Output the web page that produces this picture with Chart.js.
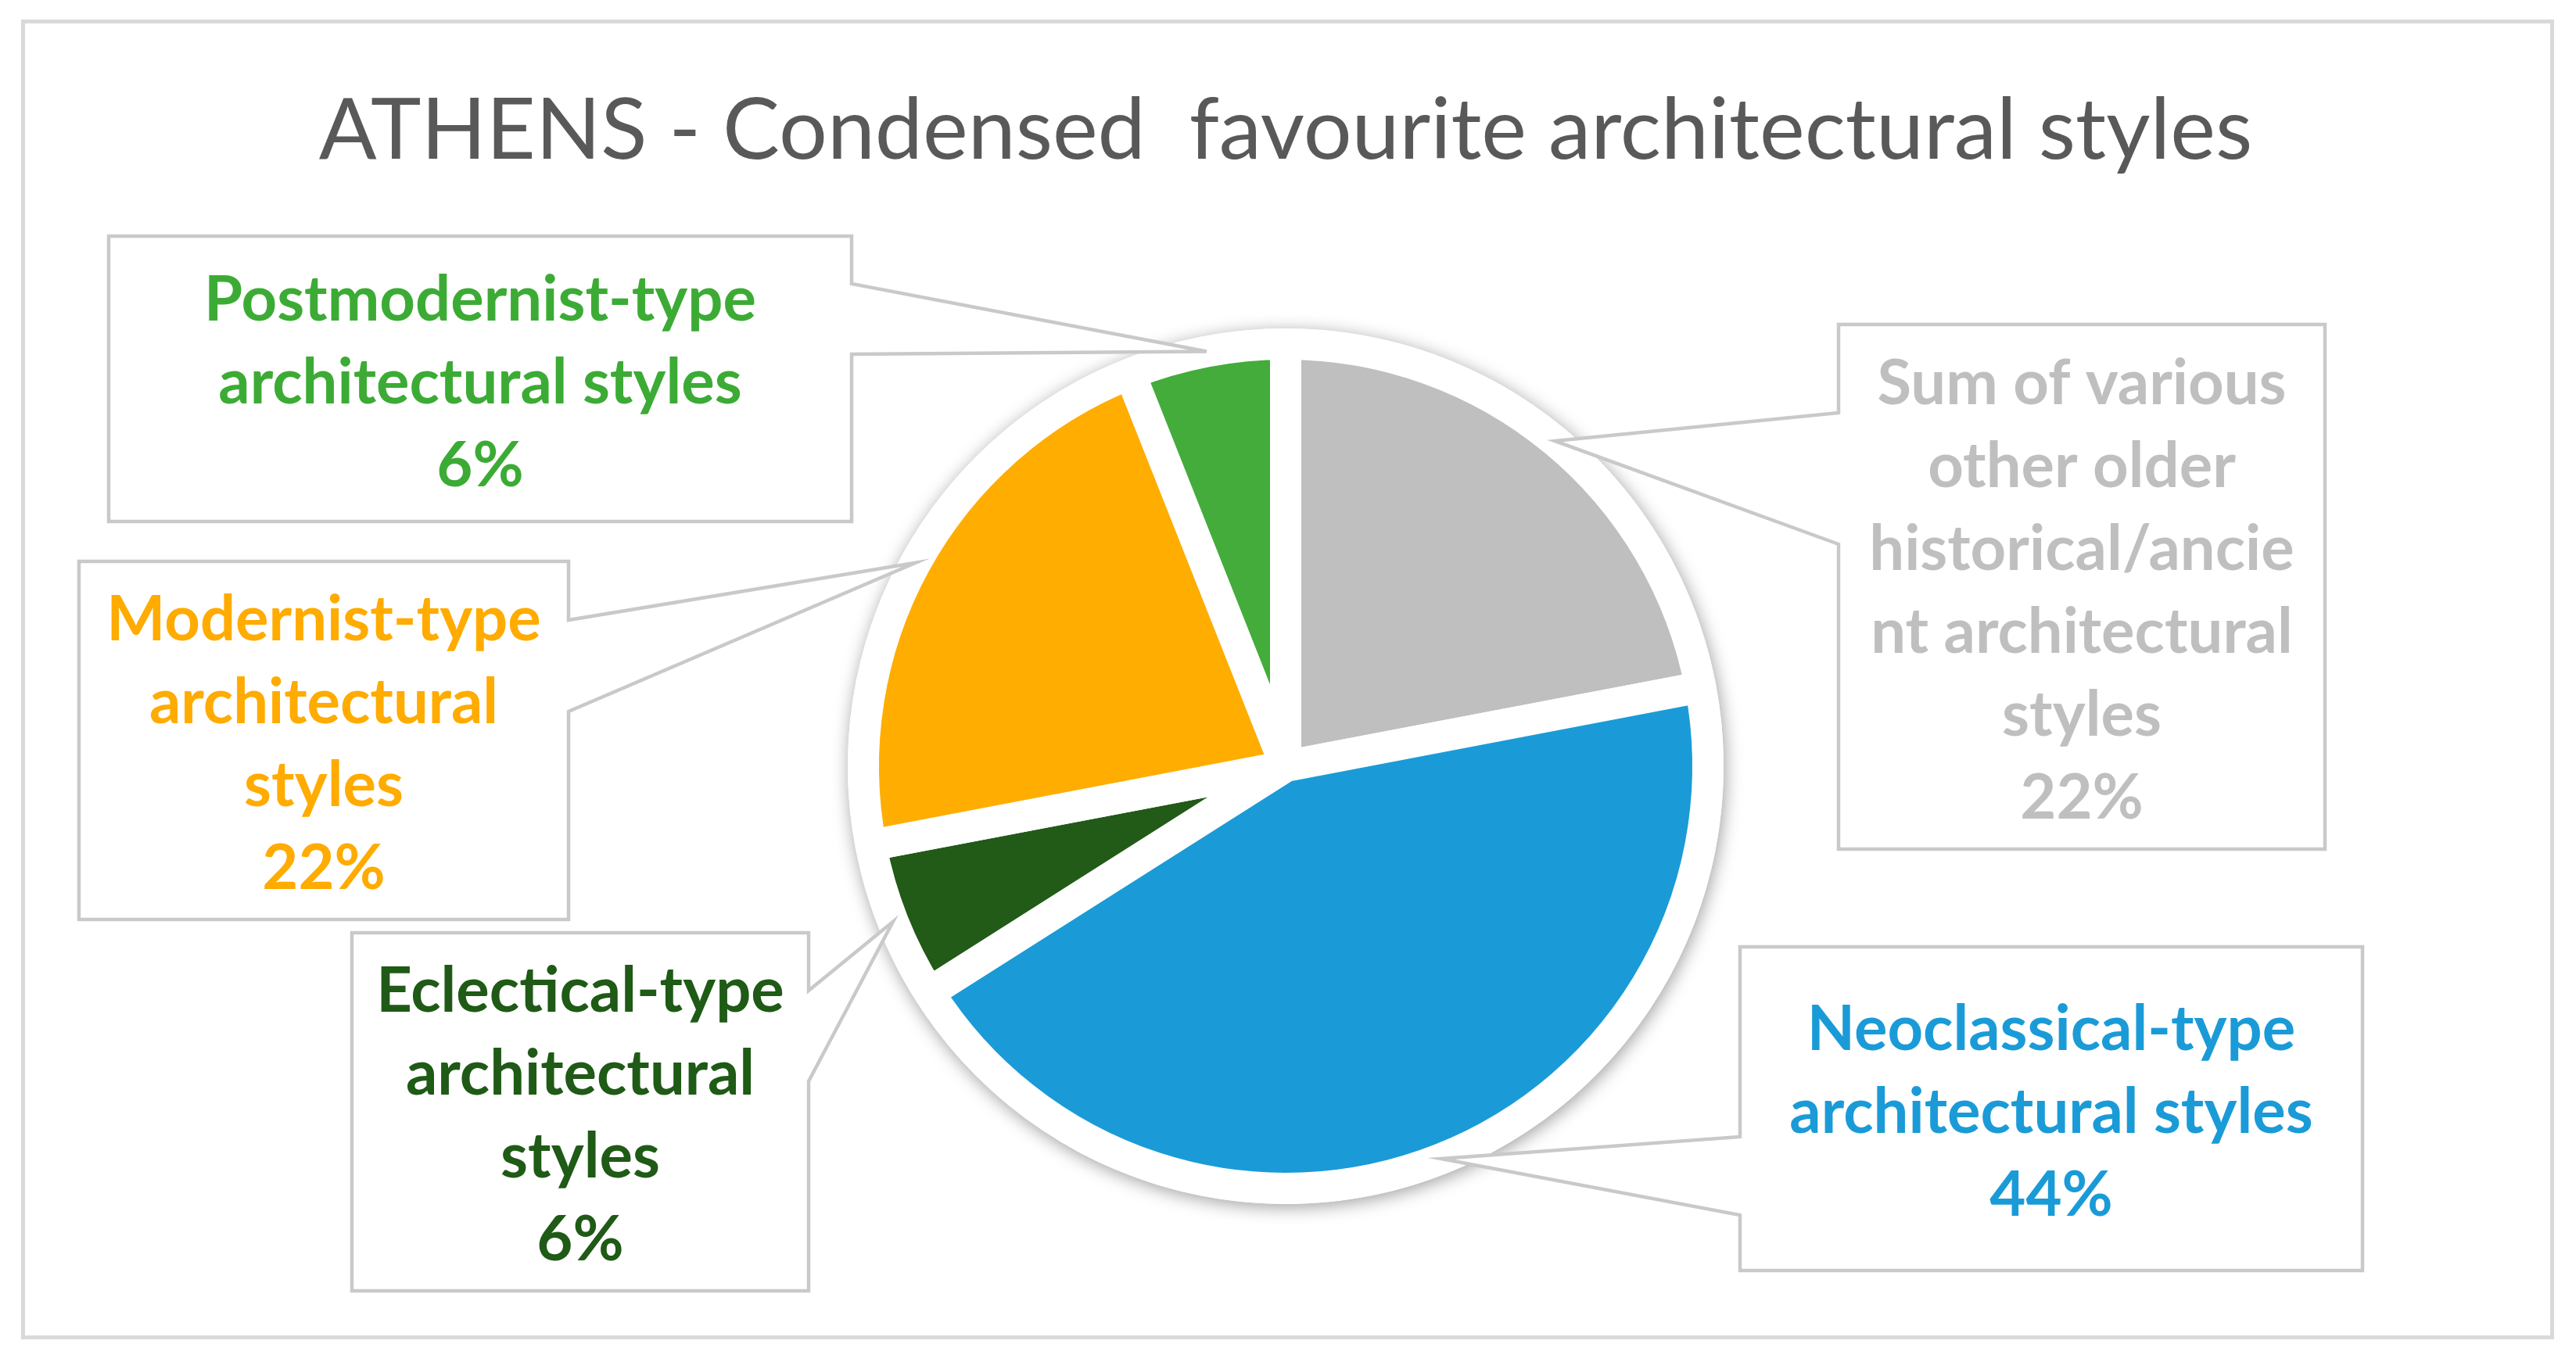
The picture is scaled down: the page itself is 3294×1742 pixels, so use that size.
<!DOCTYPE html>
<html>
<head>
<meta charset="utf-8">
<script src="https://cdn.jsdelivr.net/npm/chart.js@4.4.1/dist/chart.umd.min.js"></script>
<style>
  html, body { margin: 0; padding: 0; background: #ffffff; }
  canvas { display: block; }
</style>
</head>
<body>
<canvas id="chart" width="3294" height="1742"></canvas>
<script>
// ---------------- data ----------------
const titleText = "ATHENS - Condensed  favourite architectural styles";
const categories = [
  "Sum of various other older historical/ancient architectural styles",
  "Neoclassical-type architectural styles",
  "Eclectical-type architectural styles",
  "Modernist-type architectural styles",
  "Postmodernist-type architectural styles"
];
const values = [22, 44, 6, 22, 6];
const labelLines = [
  ["Sum of various", "other older", "historical/ancie", "nt architectural", "styles"],
  ["Neoclassical-type", "architectural styles"],
  ["Eclectical-type", "architectural", "styles"],
  ["Modernist-type", "architectural", "styles"],
  ["Postmodernist-type", "architectural styles"]
];
const sliceColors = ["#BFBFBF", "#1A9BD7", "#225A18", "#FFAD00", "#43AC3B"];
const labelColors = ["#BFBFBF", "#1A9BD7", "#1F5A16", "#FFAB00", "#3CAB35"];

// ---------------- layout (pixels) ----------------
const FONT = "Lato";
const PIE_CENTER = { x: 1644, y: 980 };
const PIE_RADIUS = 540;
const GAP = 40;
// callout boxes: [left, top, right, bottom], side of pointer, pointer base ys
const boxes = [
  { r: [2351, 415, 2973, 1086], side: "left",  base: [528, 696] },
  { r: [2225, 1211, 3021, 1625], side: "left", base: [1454, 1554] },
  { r: [450, 1193, 1034, 1651], side: "right", base: [1267, 1383] },
  { r: [101, 718, 727, 1176], side: "right",  base: [793, 910] },
  { r: [139, 302, 1089, 667], side: "right",  base: [363, 453] }
];
const LINE_SPACING = 106;

// font sizes fitted to the reference text widths
const mctx = document.createElement("canvas").getContext("2d");
function fitSize(text, weight, target) {
  mctx.font = weight + " 100px " + FONT;
  return 100 * target / mctx.measureText(text).width;
}
const titleSize = fitSize(titleText, "normal", 2473);
const labelSize = fitSize("Postmodernist-type", "bold", 706);
mctx.font = "normal " + titleSize + "px " + FONT;
mctx.textBaseline = "alphabetic";
const tm = mctx.measureText(titleText);
const midToBase = (tm.fontBoundingBoxAscent - tm.fontBoundingBoxDescent) / 2;
const titleBaseline = 210;
const titlePadTop = titleBaseline - midToBase - titleSize / 2;
const chartTop = titlePadTop + titleSize;
const padBottom = chartTop + 1742 - 2 * PIE_CENTER.y;
const padRight = 3294 - 2 * PIE_CENTER.x;

// ---------------- plugins ----------------
const framePlugin = {
  id: "frame",
  beforeDraw(chart) {
    const ctx = chart.ctx;
    ctx.save();
    ctx.fillStyle = "#ffffff";
    ctx.fillRect(0, 0, chart.width, chart.height);
    ctx.strokeStyle = "#D9D9D9";
    ctx.lineWidth = 5;
    ctx.strokeRect(29.5, 27.5, 3234, 1683);
    ctx.restore();
  }
};

const ringPlugin = {
  id: "ring",
  beforeDatasetsDraw(chart) {
    const arc = chart.getDatasetMeta(0).data[0];
    if (!arc) return;
    const ctx = chart.ctx;
    ctx.save();
    ctx.beginPath();
    ctx.arc(arc.x, arc.y, arc.outerRadius + GAP / 2, 0, Math.PI * 2);
    ctx.fillStyle = "#ffffff";
    ctx.shadowColor = "rgba(0,0,0,0.38)";
    ctx.shadowBlur = 22;
    ctx.shadowOffsetX = 2;
    ctx.shadowOffsetY = 4;
    ctx.fill();
    ctx.restore();
  }
};

const calloutPlugin = {
  id: "callouts",
  afterDatasetsDraw(chart) {
    const ctx = chart.ctx;
    const meta = chart.getDatasetMeta(0);
    ctx.save();
    meta.data.forEach((arc, i) => {
      const b = boxes[i];
      const [x1, y1, x2, y2] = b.r;
      const mid = (arc.startAngle + arc.endAngle) / 2;
      const tx = arc.x + Math.cos(mid) * arc.outerRadius;
      const ty = arc.y + Math.sin(mid) * arc.outerRadius;
      ctx.beginPath();
      if (b.side === "right") {
        ctx.moveTo(x1, y1);
        ctx.lineTo(x2, y1);
        ctx.lineTo(x2, b.base[0]);
        ctx.lineTo(tx, ty);
        ctx.lineTo(x2, b.base[1]);
        ctx.lineTo(x2, y2);
        ctx.lineTo(x1, y2);
      } else {
        ctx.moveTo(x1, y1);
        ctx.lineTo(x2, y1);
        ctx.lineTo(x2, y2);
        ctx.lineTo(x1, y2);
        ctx.lineTo(x1, b.base[1]);
        ctx.lineTo(tx, ty);
        ctx.lineTo(x1, b.base[0]);
      }
      ctx.closePath();
      ctx.fillStyle = "#ffffff";
      ctx.fill();
      ctx.lineJoin = "miter";
      ctx.strokeStyle = "#C9C9C9";
      ctx.lineWidth = 4.5;
      ctx.stroke();

      const lines = labelLines[i].concat([values[i] + "%"]);
      const n = lines.length;
      const cx = (x1 + x2) / 2;
      const cy = (y1 + y2) / 2 + 3;
      ctx.font = "bold " + labelSize + "px " + FONT;
      ctx.fillStyle = labelColors[i];
      ctx.textAlign = "center";
      ctx.textBaseline = "alphabetic";
      lines.forEach((t, k) => {
        ctx.fillText(t, cx, cy + (k - (n - 1) / 2) * LINE_SPACING + 28);
      });
    });
    ctx.restore();
  }
};

// ---------------- chart ----------------
new Chart(document.getElementById("chart"), {
  type: "pie",
  data: {
    labels: categories,
    datasets: [{
      data: values,
      backgroundColor: sliceColors,
      borderColor: "#ffffff",
      borderWidth: GAP,
      hoverOffset: 0,
      clip: false
    }]
  },
  options: {
    responsive: false,
    animation: false,
    devicePixelRatio: 1,
    radius: PIE_RADIUS,
    layout: { padding: { top: 0, left: 0, right: padRight, bottom: padBottom } },
    events: [],
    plugins: {
      legend: { display: false },
      tooltip: { enabled: false },
      title: {
        display: true,
        text: titleText,
        color: "#595959",
        font: { family: FONT, size: titleSize, weight: "normal", lineHeight: 1 },
        padding: { top: titlePadTop, bottom: 0 }
      }
    }
  },
  plugins: [framePlugin, ringPlugin, calloutPlugin]
});
</script>
</body>
</html>
